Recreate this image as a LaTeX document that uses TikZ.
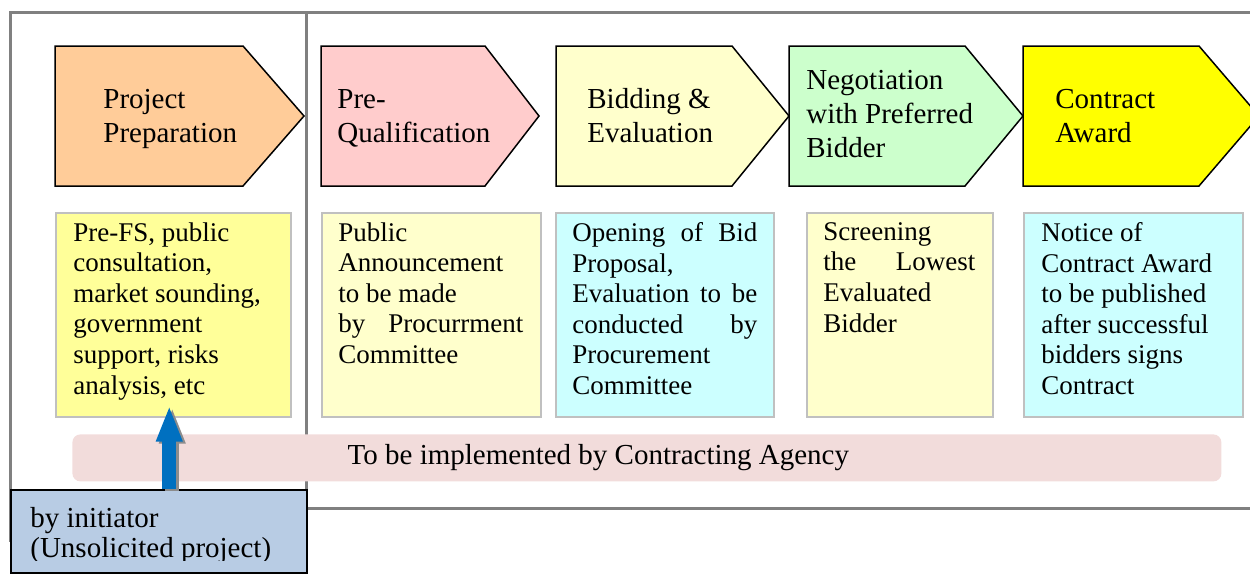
\documentclass[tikz,border=0pt]{standalone}
\usepackage{fontspec}
\setmainfont{Liberation Serif}
\usetikzlibrary{arrows.meta}

\definecolor{framegray}{HTML}{808080}
\definecolor{boxgray}{HTML}{C0C0C0}
\definecolor{peach}{HTML}{FFCC99}
\definecolor{rose}{HTML}{FFCCCC}
\definecolor{cream}{HTML}{FFFFCC}
\definecolor{mint}{HTML}{CCFFCC}
\definecolor{brightyellow}{HTML}{FFFF00}
\definecolor{lemon}{HTML}{FFFF99}
\definecolor{aqua}{HTML}{CCFFFF}
\definecolor{barpink}{HTML}{F2DCDB}
\definecolor{steel}{HTML}{B8CCE4}
\definecolor{arrowblue}{HTML}{0070C0}

\newcommand{\fillline}[2]{\makebox[#1][s]{#2}}

\tikzset{
    frame/.style={draw=framegray, line width=1.5pt},
    chev/.style={draw=black, line width=0.75pt},
    chevtext/.style={anchor=west, align=left, inner sep=0pt, font=\fontsize{14.5}{17}\selectfont},
    notebox/.style={draw=boxgray, line width=0.75pt, anchor=north west, minimum height=102pt, inner sep=0pt},
    notetext/.style={anchor=north west, align=left, inner sep=0pt, font=\fontsize{13.5}{15.3}\selectfont},
    bigarrow/.style={line width=7pt, -{Triangle[length=18pt, width=12pt]}}
}

\begin{document}
\begin{tikzpicture}[x=0.5pt, y=-0.5pt]
    \useasboundingbox (0,0) rectangle (1250,574);
    \clip (0,0) rectangle (1250,574);
    % frames
    \draw[frame] (10,12) rectangle (306,540);
    \draw[frame] (306,12) rectangle (1270,508);

    % stages
    \draw[chev, fill=peach] (55,46) -- (243,46) -- (304,116) -- (243,186) -- (55,186) -- cycle;
    \node[chevtext] (pp) at (103,119) {Project\\Preparation};
    \draw[chev, fill=rose] (321,46) -- (485,46) -- (539,116) -- (485,186) -- (321,186) -- cycle;
    \node[chevtext] (pq) at (337,118) {Pre-\\Qualification};
    \draw[chev, fill=cream] (556,46) -- (732,46) -- (789,116) -- (732,186) -- (556,186) -- cycle;
    \node[chevtext] (be) at (587,116) {Bidding \&\\Evaluation};
    \draw[chev, fill=mint] (789,46) -- (965,46) -- (1023,116) -- (965,186) -- (789,186) -- cycle;
    \node[chevtext] (ng) at (806,114) {Negotiation\\with Preferred\\Bidder};
    \draw[chev, fill=brightyellow] (1023,46) -- (1199,46) -- (1259,116) -- (1199,186) -- (1023,186) -- cycle;
    \node[chevtext] (ca) at (1055,116) {Contract\\Award};

    % notes
    \node[notebox, fill=lemon, minimum width=117.5pt] (b1) at (55,212) {};
    \node[notetext] (t1) at (73,222) {Pre-FS, public\\consultation,\\market sounding,\\government\\support, risks\\analysis, etc};
    \node[notebox, fill=cream, minimum width=109.5pt] (b2) at (321,212) {};
    \node[notetext] (t2) at (338,222) {Public\\Announcement\\to be made\\\fillline{92.5pt}{by Procurrment}\\Committee};
    \node[notebox, fill=aqua, minimum width=109pt] (b3) at (555,212) {};
    \node[notetext] (t3) at (572,222) {\fillline{92.5pt}{Opening of Bid}\\Proposal,\\\fillline{92.5pt}{Evaluation to be}\\\fillline{92.5pt}{conducted by}\\Procurement\\Committee};
    \node[notebox, fill=cream, minimum width=93pt] (b4) at (806,212) {};
    \node[notetext] (t4) at (823,222) {Screening\\\fillline{76pt}{the Lowest}\\Evaluated\\Bidder};
    \node[notebox, fill=aqua, minimum width=109.5pt] (b5) at (1023,212) {};
    \node[notetext] (t5) at (1041,222) {Notice of\\Contract Award\\to be published\\after successful\\bidders signs\\Contract};

    % agency bar
    \node[fill=barpink, rounded corners=4pt, anchor=north west, minimum width=574.5pt, minimum height=23.5pt, inner sep=0pt] (bar) at (72,434) {};
    \node[font=\fontsize{14.5}{17}\selectfont, inner sep=0pt] (agency) at ([xshift=-24.25pt]bar.center) {To be implemented by Contracting Agency};

    % initiator
    \node[draw=black, line width=1pt, fill=steel, anchor=north west, minimum width=148pt, minimum height=41.5pt, inner sep=0pt] (init) at (10,489) {};
    \begin{scope}
        \clip (10,489) rectangle (306,560);
        \node[chevtext, font=\fontsize{14.5}{15}\selectfont, anchor=north west] (who) at (30,507) {by initiator\\(Unsolicited project)};
    \end{scope}

    % arrow
    \draw[bigarrow, draw=black!45, fill=black!45] ([xshift=-0.5pt, yshift=-1pt]b1.south |- init.north) -- ([xshift=-0.5pt, yshift=5pt]b1.south);
    \draw[bigarrow, draw=arrowblue, fill=arrowblue] ([xshift=-2pt]b1.south |- init.north) -- ([xshift=-2pt, yshift=6pt]b1.south);
\end{tikzpicture}
\end{document}
